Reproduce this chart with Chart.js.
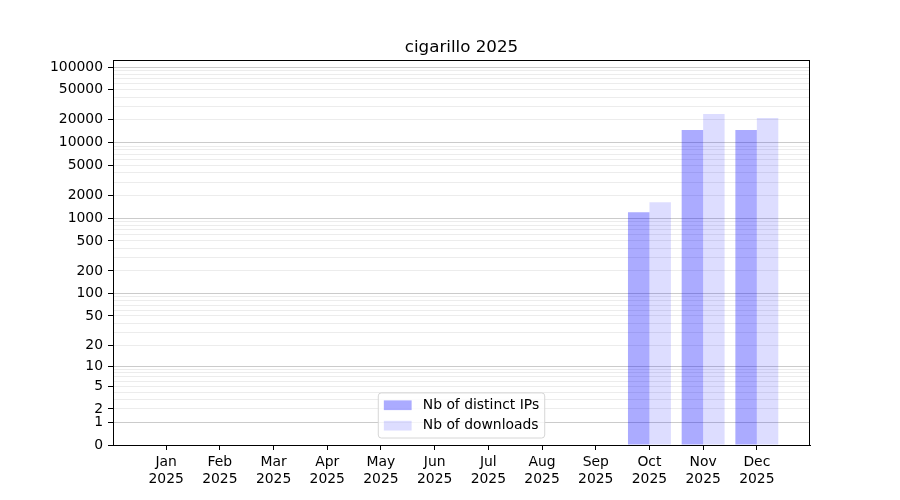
<!DOCTYPE html>
<html lang="en">
<head>
    <meta charset="UTF-8">
    <title>cigarillo 2025</title>
    <style>
        html, body { margin: 0; padding: 0; background: #fff; }
        #wrap { width: 900px; height: 500px; }
    </style>
</head>
<body>
    <div id="wrap">
        <canvas id="myChart" width="900" height="500"></canvas>
    </div>

    <script src="https://cdn.jsdelivr.net/npm/chart.js"></script>

    <script>
        // data
        const months = ['Jan', 'Feb', 'Mar', 'Apr', 'May', 'Jun', 'Jul', 'Aug', 'Sep', 'Oct', 'Nov', 'Dec'];
        const year = '2025';
        const distinctIPs = [0, 0, 0, 0, 0, 0, 0, 0, 0, 1200, 14700, 14700];
        const downloads = [0, 0, 0, 0, 0, 0, 0, 0, 0, 1630, 23900, 21100];
        const yLabels = [0, 1, 2, 5, 10, 20, 50, 100, 200, 500, 1000, 2000, 5000, 10000, 20000, 50000, 100000];
        const yMax = 123900;
        const title = 'cigarillo ' + year;

        const FONT = "'DejaVu Sans', sans-serif";

        // y axis: log10(v + 1)
        const f = v => Math.log10(v + 1);

        class Log1pScale extends Chart.Scale {
            static id = 'log1p';
            static defaults = {};
            determineDataLimits() {
                this.min = 0;
                this.max = yMax;
            }
            buildTicks() {
                const ticks = [{ value: 0 }];
                for (let p = 1; p <= 100000; p *= 10) {
                    for (let m = 1; m <= 9; m++) {
                        const v = m * p;
                        if (v <= this.max && (m === 1 || p < 100000)) ticks.push({ value: v, major: m === 1 });
                    }
                }
                return ticks;
            }
            getLabelForValue(value) {
                return String(value);
            }
            configure() {
                super.configure();
                this._startValue = f(this.min);
                this._valueRange = f(this.max) - f(this.min);
            }
            getPixelForValue(value) {
                return this.getPixelForDecimal((f(value) - this._startValue) / this._valueRange);
            }
            getValueForPixel(pixel) {
                return Math.pow(10, this._startValue + this.getDecimalForPixel(pixel) * this._valueRange) - 1;
            }
        }
        Chart.register(Log1pScale);

        // axes frame + title centred over the plot area
        const frame = {
            id: 'frame',
            afterDatasetsDraw(chart) {
                const { ctx, chartArea: a } = chart;
                ctx.save();
                ctx.strokeStyle = '#000';
                ctx.lineWidth = 1;
                ctx.strokeRect(Math.round(a.left) + 0.5, Math.round(a.top) + 0.5,
                    Math.round(a.right - a.left) - 1, Math.round(a.bottom - a.top));
                ctx.fillStyle = '#000';
                ctx.font = '16.7px ' + FONT;
                ctx.textAlign = 'center';
                ctx.textBaseline = 'alphabetic';
                ctx.fillText(title, (a.left + a.right) / 2, a.top - 8);
                ctx.restore();
            }
        };

        // matplotlib style legend, lower center
        const boxLegend = {
            id: 'boxLegend',
            afterDraw(chart) {
                const { ctx, chartArea: a } = chart;
                const fs = 13.9;
                const pad = 0.4 * fs, handleW = 2 * fs, handleH = 0.7 * fs, textPad = 0.8 * fs, spacing = 0.5 * fs;
                const rowH = 13.5;
                ctx.save();
                ctx.font = fs + 'px ' + FONT;
                const sets = chart.data.datasets;
                const textW = Math.max(...sets.map(d => ctx.measureText(d.label).width));
                const w = pad * 2 + handleW + textPad + textW;
                const h = pad * 2 + sets.length * rowH + (sets.length - 1) * spacing;
                const x = (a.left + a.right) / 2 - w / 2;
                const y = a.bottom - 7 - h;
                ctx.beginPath();
                ctx.roundRect(x, y, w, h, 3);
                ctx.fillStyle = 'rgba(255,255,255,0.8)';
                ctx.fill();
                ctx.strokeStyle = '#d6d6d6';
                ctx.lineWidth = 1;
                ctx.stroke();
                sets.forEach((d, i) => {
                    const cy = y + pad + i * (rowH + spacing) + rowH / 2;
                    ctx.fillStyle = d.backgroundColor;
                    ctx.fillRect(x + pad, cy - handleH / 2, handleW, handleH);
                    ctx.fillStyle = '#000';
                    ctx.textBaseline = 'middle';
                    ctx.textAlign = 'left';
                    ctx.fillText(d.label, x + pad + handleW + textPad, cy);
                });
                ctx.restore();
            }
        };

        const ctx = document.getElementById('myChart');

        let chart = new Chart(ctx, {
            type: 'bar',
            data: {
                datasets: [{
                    label: 'Nb of distinct IPs',
                    data: months.map((m, i) => ({ x: i, y: distinctIPs[i] })),
                    backgroundColor: 'rgba(0,0,255,0.33)',
                    borderWidth: 0
                }, {
                    label: 'Nb of downloads',
                    data: months.map((m, i) => ({ x: i, y: downloads[i] })),
                    backgroundColor: 'rgba(0,0,255,0.135)',
                    borderWidth: 0
                }]
            },
            options: {
                responsive: false,
                animation: false,
                devicePixelRatio: 1,
                layout: { padding: { left: 0, right: 90, top: 60, bottom: 0 } },
                datasets: {
                    bar: { categoryPercentage: 0.8, barPercentage: 1.0 }
                },
                plugins: {
                    legend: { display: false },
                    tooltip: { enabled: false },
                    title: { display: false }
                },
                scales: {
                    x: {
                        type: 'linear',
                        min: -0.99,
                        max: 11.99,
                        offset: false,
                        afterBuildTicks: scale => {
                            scale.ticks = months.map((m, i) => ({ value: i }));
                        },
                        afterFit: scale => { scale.height = 55; },
                        grid: {
                            offset: false,
                            drawOnChartArea: false,
                            drawTicks: true,
                            tickLength: 5,
                            tickColor: '#000',
                            tickWidth: 1
                        },
                        border: { display: true, color: '#000', width: 1 },
                        ticks: {
                            autoSkip: false,
                            maxRotation: 0,
                            padding: 4,
                            color: '#000',
                            font: { family: FONT, size: 13.9 },
                            callback: v => [months[v], year]
                        }
                    },
                    y: {
                        type: 'log1p',
                        afterFit: scale => { scale.width = 113; },
                        grid: {
                            drawTicks: true,
                            tickLength: 5,
                            color: c => (c.tick && c.tick.major) ? '#cbcbcb' : (c.tick && c.tick.value === 0 ? 'rgba(0,0,0,0)' : '#ececec'),
                            tickColor: c => yLabels.includes(c.tick.value) ? '#000' : 'rgba(0,0,0,0)',
                            lineWidth: 1
                        },
                        border: { display: true, color: '#000', width: 1 },
                        ticks: {
                            autoSkip: false,
                            padding: 5,
                            color: '#000',
                            font: { family: FONT, size: 13.9 },
                            callback: v => yLabels.includes(v) ? String(v) : ''
                        }
                    }
                }
            },
            plugins: [frame, boxLegend]
        });
    </script>
</body>
</html>
